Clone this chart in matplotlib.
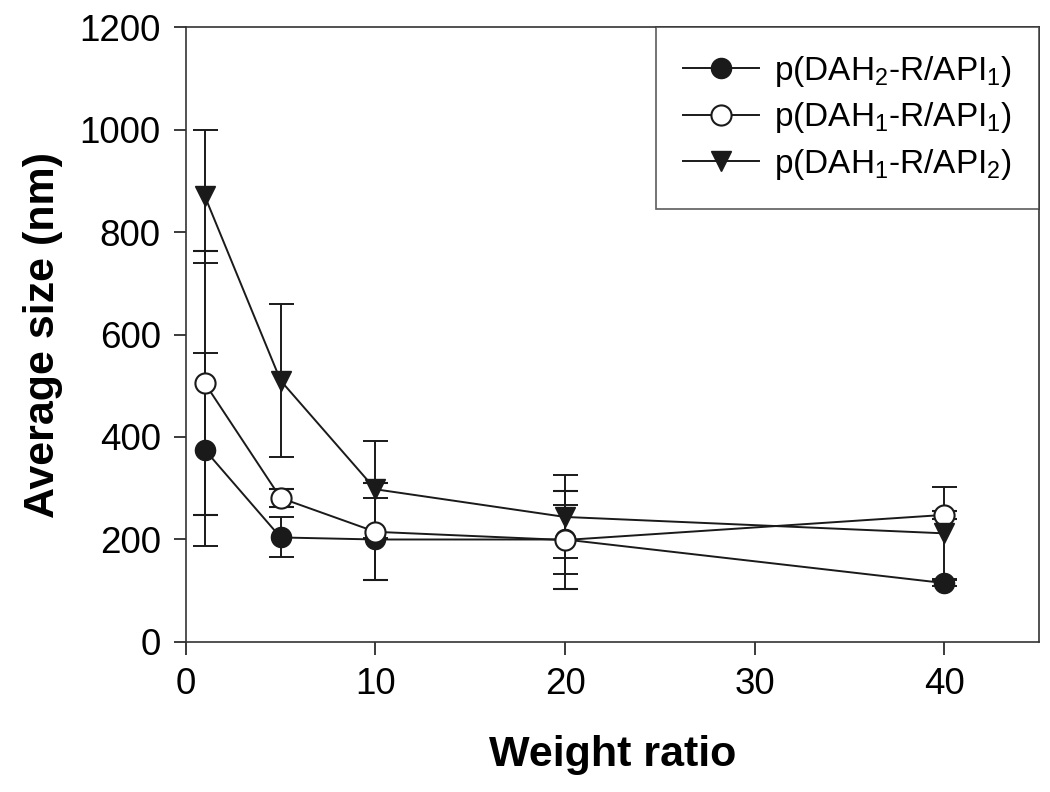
import numpy as np
from matplotlib import pyplot as plt

plt.rcParams['font.family'] = ['Liberation Sans', 'DejaVu Sans']
plt.rcParams['mathtext.default'] = 'regular'

# weight ratio
ratio = [1, 5, 10, 20, 40]

# average size (nm) and error bars
size_dah2_api1 = [375, 204, 200, 200, 115]
err_dah2_api1 = [188, 39, 80, 67, 5]
size_dah1_api1 = [505, 281, 215, 199, 248]
err_dah1_api1 = [258, 18, 95, 95, 8]
size_dah1_api2 = [870, 510, 298, 244, 212]
err_dah1_api2 = [130, 150, 95, 81, 90]

labels = ['p(DAH$_2$-R/API$_1$)', 'p(DAH$_1$-R/API$_1$)', 'p(DAH$_1$-R/API$_2$)']

ink = '#1a1a1a'

fig = plt.figure(figsize=(10.5, 7.92), dpi=100)
ax = fig.add_axes([0.177, 0.1894, 0.8125, 0.7765])

common = dict(color=ink, lw=1.4, elinewidth=1.4, capsize=9, capthick=1.4, markersize=14.5)
c1 = ax.errorbar(ratio, size_dah2_api1, yerr=err_dah2_api1, fmt='-o', mfc=ink, mec=ink,
                 label=labels[0], **common)
c2 = ax.errorbar(ratio, size_dah1_api1, yerr=err_dah1_api1, fmt='-o', mfc='white', mec=ink,
                 mew=1.5, label=labels[1], **common)
c3 = ax.errorbar(ratio, size_dah1_api2, yerr=err_dah1_api2, fmt='-v', mfc=ink, mec=ink,
                 label=labels[2], **common)

ax.set_xlim(0, 45)
ax.set_ylim(0, 1200)
ax.set_xticks([0, 10, 20, 30, 40])
ax.set_yticks(np.arange(0, 1201, 200))
ax.tick_params(direction='out', length=9, width=1.2, labelsize=26.5, color=ink, pad=9)
for sp in ax.spines.values():
    sp.set_linewidth(1.2)
    sp.set_color('#333333')

ax.set_xlabel('Weight ratio', fontsize=31, fontweight='bold', labelpad=24)
ax.set_ylabel('Average size (nm)', fontsize=31, fontweight='bold', labelpad=12)

# legend shows only line + marker, no error bars
leg = ax.legend(handles=[c1[0], c2[0], c3[0]], labels=labels, loc='upper right',
                fontsize=24, frameon=True, fancybox=False, borderaxespad=0,
                handlelength=2.3, borderpad=0.8, labelspacing=0.35, handletextpad=0.45)
leg.get_frame().set_edgecolor('#333333')
leg.get_frame().set_linewidth(1.2)

fig.savefig('out.png', dpi=100)
